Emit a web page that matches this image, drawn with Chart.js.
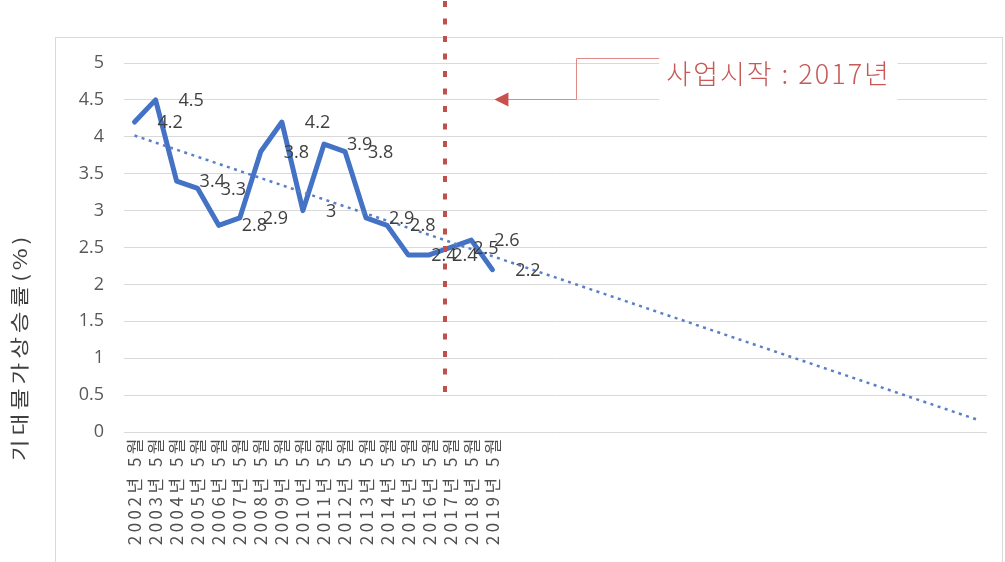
<!DOCTYPE html>
<html>
<head>
<meta charset="utf-8">
<script src="https://cdn.jsdelivr.net/npm/chart.js@4/dist/chart.umd.min.js"></script>
<style>
  html, body { margin: 0; padding: 0; background: #ffffff; }
  #wrap { width: 1005px; height: 562px; position: relative; }
</style>
</head>
<body>
<div id="wrap"><canvas id="chart" width="1005" height="562"></canvas></div>
<script>
// Survey month of each year (May) and the expected inflation rate (%)
const years = ['2002','2003','2004','2005','2006','2007','2008','2009','2010',
               '2011','2012','2013','2014','2015','2016','2017','2018','2019'];
const surveyLabels = years.map(y => y + '년 5월');
const expectedInflation = [4.2, 4.5, 3.4, 3.3, 2.8, 2.9, 3.8, 4.2, 3.0,
                           3.9, 3.8, 2.9, 2.8, 2.4, 2.4, 2.5, 2.6, 2.2];
// Number of extra periods the linear trendline is projected forward
const forecastPeriods = 23;
const yTickLabels = ['0', '0.5', '1', '1.5', '2', '2.5', '3', '3.5', '4', '4.5', '5'];
const axisTitle = '기대물가상승률(%)';
const calloutText = '사업시작 : 2017년';

// Callout geometry in axis units (category index, value)
const startMarker = { x: 14.75, yFrom: 0.4 };
const callout = { tipX: 17.1, tipY: 4.5, elbowX: 20.98, leaderY: 5.07,
                  boxLeft: 24.93, boxRight: 36.25, boxTop: 5.28, boxBottom: 4.47,
                  textX: 30.6, textY: 4.86 };

const categories = surveyLabels.concat(new Array(forecastPeriods).fill(''));

// Least-squares linear trend of the series against its index
function linearFit(vals) {
  const n = vals.length;
  let sx = 0, sy = 0, sxy = 0, sxx = 0;
  vals.forEach((v, i) => { sx += i; sy += v; sxy += i * v; sxx += i * i; });
  const b = (n * sxy - sx * sy) / (n * sxx - sx * sx);
  const a = (sy - b * sx) / n;
  return { a, b };
}
const fit = linearFit(expectedInflation);
const lastIdx = categories.length - 1;
const trend = new Array(categories.length).fill(null);
trend[0] = fit.a;
trend[lastIdx] = fit.a + fit.b * lastIdx;

const chartFrame = {
  id: 'chartFrame',
  beforeDraw(chart) {
    const ctx = chart.ctx;
    ctx.save();
    ctx.fillStyle = '#ffffff';
    ctx.fillRect(0, 0, chart.width, chart.height);
    ctx.strokeStyle = '#d9d9d9';
    ctx.lineWidth = 1;
    ctx.strokeRect(55.5, 37.5, 947, 600);
    ctx.restore();
  }
};

const valueLabels = {
  id: 'valueLabels',
  afterDatasetsDraw(chart) {
    const ctx = chart.ctx;
    const meta = chart.getDatasetMeta(0);
    ctx.save();
    ctx.font = '18px "Open Sans", "Noto Sans", sans-serif';
    ctx.fillStyle = '#404040';
    ctx.textAlign = 'left';
    ctx.textBaseline = 'middle';
    meta.data.forEach((pt, i) => {
      ctx.fillText(String(expectedInflation[i]), pt.x + 23, pt.y + 1);
    });
    ctx.restore();
    // the category labels are drawn next with widened letter spacing
    ctx.letterSpacing = '3.5px';
  },
  afterDraw(chart) {
    const ctx = chart.ctx;
    ctx.letterSpacing = '0px';
    const xs = chart.scales.x, ys = chart.scales.y;
    const px = v => xs.getPixelForValue(v);
    const py = v => ys.getPixelForValue(v);

    // project start marker
    ctx.save();
    ctx.strokeStyle = '#c0504d';
    ctx.lineWidth = 4;
    ctx.setLineDash([6, 11.5]);
    const mx = Math.round(px(startMarker.x));
    ctx.beginPath();
    ctx.moveTo(mx, 1);
    ctx.lineTo(mx, py(startMarker.yFrom));
    ctx.stroke();
    ctx.restore();

    // callout box
    ctx.save();
    const bl = px(callout.boxLeft), br = px(callout.boxRight);
    const bt = py(callout.boxTop), bb = py(callout.boxBottom);
    ctx.fillStyle = '#ffffff';
    ctx.fillRect(bl, bt, br - bl, bb - bt);

    // elbow leader with arrowhead
    const tipX = px(callout.tipX), tipY = Math.round(py(callout.tipY)) - 0.5;
    const ex = Math.round(px(callout.elbowX)) + 0.5;
    const ly = Math.round(py(callout.leaderY)) + 0.5;
    ctx.strokeStyle = '#e08a88';
    ctx.lineWidth = 1;
    ctx.beginPath();
    ctx.moveTo(bl, ly);
    ctx.lineTo(ex, ly);
    ctx.lineTo(ex, tipY);
    ctx.lineTo(tipX + 12, tipY);
    ctx.stroke();
    ctx.fillStyle = '#c9504d';
    ctx.beginPath();
    ctx.moveTo(tipX, tipY);
    ctx.lineTo(tipX + 14, tipY - 7);
    ctx.lineTo(tipX + 14, tipY + 7);
    ctx.closePath();
    ctx.fill();

    ctx.font = '300 27px "Noto Sans CJK KR", sans-serif';
    ctx.letterSpacing = '2px';
    ctx.fillStyle = '#c55a58';
    ctx.textAlign = 'center';
    ctx.textBaseline = 'middle';
    ctx.fillText(calloutText, px(callout.textX), py(callout.textY));
    ctx.restore();
    ctx.letterSpacing = '0px';

    // value axis title
    ctx.save();
    ctx.translate(20, 347);
    ctx.rotate(-Math.PI / 2);
    ctx.scale(1.25, 1);
    ctx.font = '19px "Noto Sans CJK KR", sans-serif';
    ctx.letterSpacing = '3px';
    ctx.fillStyle = '#404040';
    ctx.textAlign = 'center';
    ctx.textBaseline = 'middle';
    ctx.fillText(axisTitle, 0, 0);
    ctx.restore();
    ctx.letterSpacing = '0px';
  }
};

new Chart(document.getElementById('chart'), {
  type: 'line',
  data: {
    labels: categories,
    datasets: [
      {
        data: expectedInflation,
        borderColor: '#4472c4',
        borderWidth: 5,
        borderJoinStyle: 'round',
        borderCapStyle: 'round',
        pointRadius: 0,
        tension: 0,
        order: 1
      },
      {
        data: trend,
        borderColor: '#5b7fc6',
        borderWidth: 2.5,
        borderDash: [3, 4.5],
        pointRadius: 0,
        spanGaps: true,
        tension: 0,
        order: 0
      }
    ]
  },
  options: {
    responsive: false,
    animation: false,
    devicePixelRatio: 1,
    layout: { padding: { left: 0, right: 18, top: 63, bottom: 0 } },
    plugins: { legend: { display: false }, tooltip: { enabled: false } },
    scales: {
      x: {
        type: 'category',
        offset: true,
        grid: { display: false, drawTicks: false },
        border: { display: false },
        ticks: {
          autoSkip: false,
          minRotation: 90,
          maxRotation: 90,
          padding: 3,
          color: '#505050',
          font: { family: '"Noto Sans CJK KR", sans-serif', size: 17 },
          z: 1
        },
        afterFit(scale) { scale.height = 130; }
      },
      y: {
        min: 0,
        max: 5,
        grid: { color: '#d9d9d9', lineWidth: 1, drawTicks: false },
        border: { display: false },
        ticks: {
          stepSize: 0.5,
          padding: 20,
          color: '#595959',
          font: { family: '"Open Sans", "Noto Sans", sans-serif', size: 18 },
          callback: v => yTickLabels[Math.round(v * 2)]
        },
        afterFit(scale) { scale.width = 124; }
      }
    }
  },
  plugins: [chartFrame, valueLabels]
});
</script>
</body>
</html>
